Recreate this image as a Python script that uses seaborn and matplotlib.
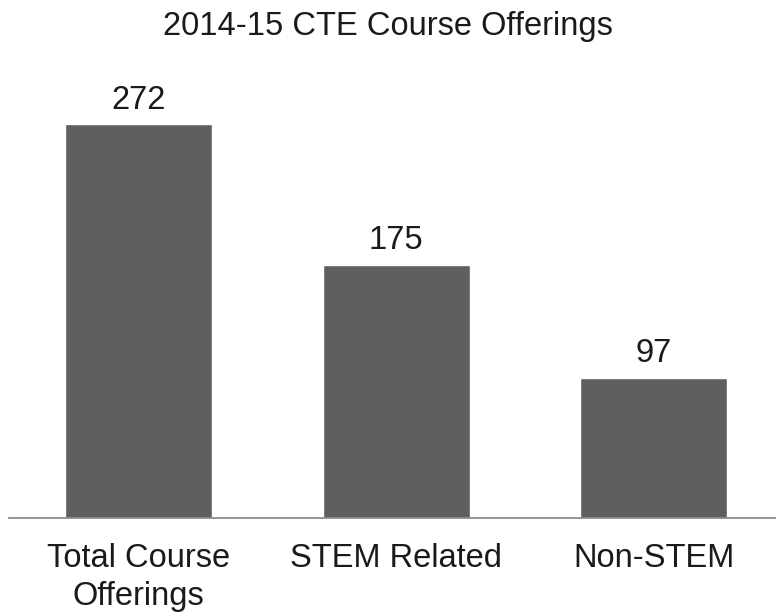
import matplotlib
matplotlib.use("Agg")
import matplotlib.pyplot as plt
import seaborn as sns
import pandas as pd

# Datos
categorias = ["Total Course\nOfferings", "STEM Related", "Non-STEM"]
valores = [272, 175, 97]
titulo = "2014-15 CTE Course Offerings"

BAR_COLOR = "#5f5f5f"
AXIS_COLOR = "#8c8c8c"
TXT = "#1a1a1a"
FS = 23.5

sns.set_theme(style="white")
plt.rcParams["font.family"] = ["Liberation Sans", "DejaVu Sans"]

df = pd.DataFrame({"cat": categorias, "val": valores})

fig = plt.figure(figsize=(7.76, 6.13), dpi=100)
ax = fig.add_axes([0.012, 95 / 613, 0.988, 437 / 613])

sns.barplot(data=df, x="cat", y="val", color=BAR_COLOR, width=0.571,
            saturation=1, ax=ax)

ax.set_ylim(0, 302)
ax.set_xlim(-0.502, 2.475)
ax.set_xlabel("")
ax.set_ylabel("")
ax.set_yticks([])
ax.tick_params(axis="x", length=0, labelsize=FS, pad=18, colors=TXT)
for lbl in ax.get_xticklabels():
    lbl.set_linespacing(1.3)
for s in ["top", "left", "right"]:
    ax.spines[s].set_visible(False)
ax.spines["bottom"].set_color(AXIS_COLOR)
ax.spines["bottom"].set_linewidth(1.3)

for cont in ax.containers:
    ax.bar_label(cont, labels=[str(v) for v in valores], padding=6,
                 fontsize=FS, color=TXT)

fig.text(0.5, 1 - 27 / 613, titulo, ha="center", va="center",
         fontsize=FS, color=TXT)

fig.savefig("out.png", dpi=100)
